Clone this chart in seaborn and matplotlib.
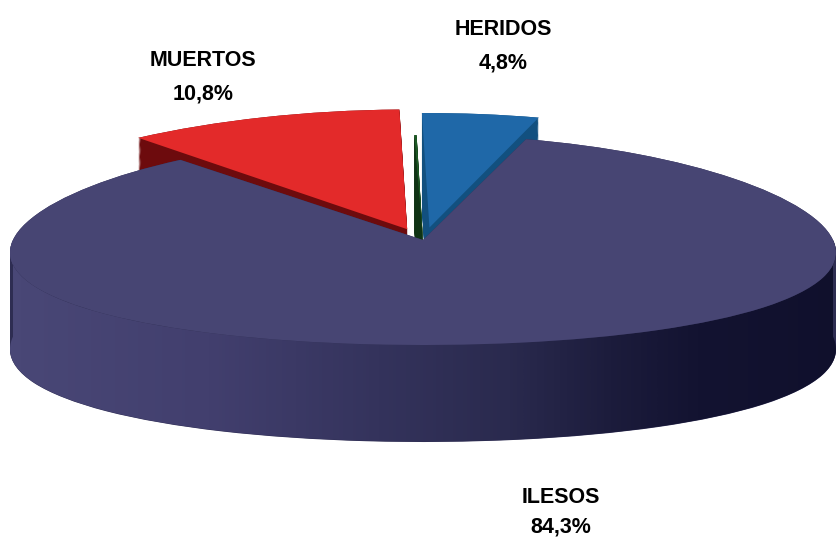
import numpy as np
import matplotlib
matplotlib.use("Agg")
import matplotlib.pyplot as plt
import seaborn as sns
from matplotlib.colors import LinearSegmentedColormap
from matplotlib.patches import Polygon
from matplotlib.transforms import Transform

# ---- data ----
categories = ["HERIDOS", "ILESOS", "MUERTOS", "OTROS"]
values = [4.8, 84.3, 10.8, 0.1]
show_label = [True, True, True, False]

# ---- style ----
top_colors = ["#1f68a8", "#474573", "#e32a2a", "#1d5a25"]
side_colors = ["#12507f", "#2e2d52", "#6d0b0d", "#0f3314"]
explode = [0.12, 0.0, 0.11, 0.0]
slice_radius = [1.09, 1.0, 1.14, 1.0]
START_ANGLE = 91

sns.set_theme(style="white")
plt.rcParams["font.family"] = ["Liberation Sans", "DejaVu Sans"]

W, H = 836, 538
fig = plt.figure(figsize=(W / 100, H / 100), dpi=100)
fig.patch.set_facecolor("white")
ax = fig.add_axes([0, 0, 1, 1])

CX, CY, A, B = 423, 240, 410, 105   # pie centre (px from left/top), x/y radius in px
DEPTH = 97 / B
K = 0.12                            # mild perspective (far side narrower)


class Perspective(Transform):
    """Tilted-disc view: far side narrower, plus a vertical drop for the walls."""
    input_dims = 2
    output_dims = 2
    is_separable = False
    has_inverse = False

    def __init__(self, k, drop):
        super().__init__()
        self.k = k
        self.drop = drop

    def transform_non_affine(self, values):
        v = np.asarray(values, dtype=float)
        x, y = v[:, 0], v[:, 1]
        return np.column_stack([x / (1 + self.k * y), y - self.drop])


def draw_pie(drop, colors, z):
    wedges, _ = ax.pie(values, explode=explode, colors=colors, startangle=START_ANGLE,
                       counterclock=False, center=(0, 0), frame=True,
                       wedgeprops=dict(linewidth=0))
    tr = Perspective(K, drop) + ax.transData
    for w, r in zip(wedges, slice_radius):
        w.set_radius(r)
        w.set_transform(tr)
        w.set_zorder(z)
    return wedges


# side walls: stacked pies
for i, d in enumerate(np.linspace(DEPTH, 0.0, 90)):
    draw_pie(d, side_colors, 1 + i * 0.001)

# gradient shading on the front wall
th = np.linspace(np.pi, 2 * np.pi, 300)
xs = np.cos(th) / (1 + K * np.sin(th))
ys = np.sin(th)
top_edge = np.column_stack([xs, ys])
bot_edge = np.column_stack([xs[::-1], ys[::-1] - DEPTH + 0.004])
band = Polygon(np.vstack([top_edge, bot_edge]), closed=True,
               transform=ax.transData, facecolor="none", edgecolor="none")
ax.add_patch(band)
cmap = LinearSegmentedColormap.from_list(
    "side", [(0.0, "#4a4877"), (0.25, "#423f6e"), (0.45, "#34335c"),
             (0.6, "#2a2a4e"), (0.72, "#1c1c3c"), (0.82, "#131331"),
             (1.0, "#10102c")])
grad = np.linspace(0, 1, 256)[None, :]
im = ax.imshow(grad, extent=(-1.05, 1.05, -1.0 - DEPTH - 0.05, 0.05), aspect="auto",
               cmap=cmap, zorder=2, interpolation="bicubic")
im.set_clip_path(band)

# top faces
draw_pie(0.0, top_colors, 5)

ax.set_xlim(-CX / A, (W - CX) / A)
ax.set_ylim(-(H - CY) / B, CY / B)
ax.set_aspect("auto")
ax.axis("off")

# ---- labels ----
label_pos = {"HERIDOS": (503, 35, 68), "MUERTOS": (203, 66, 100), "ILESOS": (561, 503, 533)}
for name, v, show in zip(categories, values, show_label):
    if not show:
        continue
    x, y1, y2 = label_pos[name]
    pct = f"{v:.1f}%".replace(".", ",")
    fig.text(x / W, 1 - y1 / H, name, ha="center", va="baseline",
             fontsize=15.5, fontweight="bold", color="black")
    fig.text(x / W, 1 - y2 / H, pct, ha="center", va="baseline",
             fontsize=15.5, fontweight="bold", color="black")

fig.savefig("out.png", dpi=100, facecolor="white")
